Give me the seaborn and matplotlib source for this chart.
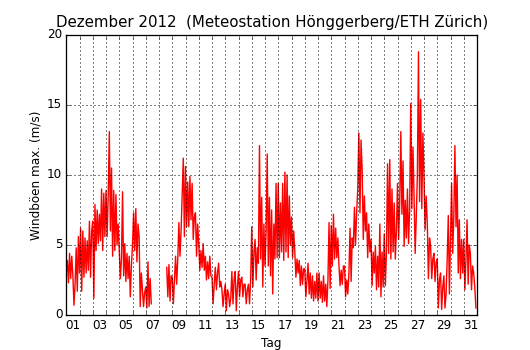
import numpy as np
import pandas as pd
import matplotlib
matplotlib.use('Agg')
import matplotlib.pyplot as plt
import matplotlib.dates as mdates
from matplotlib.ticker import FixedLocator, FixedFormatter, NullFormatter
import seaborn as sns

nan = np.nan

d01 = [3.0, 3.9, 2.3, 4.4, 2.6, 4.2, 2.8, 0.7, 2.2, 4.8, 1.7, 5.6]
d02 = [3.0, 6.2, 1.7, 6.0, 2.7, 5.5, 3.0, 5.3, 3.2, 6.7, 2.7, 6.0]
d03 = [6.7, 1.2, 7.9, 4.6, 7.5, 5.1, 7.2, 5.3, 9.0, 4.6, 8.7, 5.6]
d04 = [8.9, 5.6, 8.5, 13.1, 6.0, 10.5, 4.2, 8.9, 4.6, 8.6, 5.0, 6.5]
d05 = [4.6, 2.6, 4.0, 8.8, 2.8, 5.1, 2.4, 4.4, 2.6, 4.2, 1.3, 3.5]
d06 = [5.0, 7.3, 4.6, 7.6, 3.8, 6.5, 5.6, 0.6, 3.0, 1.8, 0.6, 1.6]
d07 = [2.0, 0.5, 3.8, 0.6, 2.6, 0.8, nan, nan, nan, nan, nan, nan]
d08 = [nan, nan, nan, nan, nan, nan, nan, 3.4, 1.3, 3.6, 1.0, 2.8]
d09 = [2.7, 0.8, 2.5, 4.2, 2.2, 4.0, 6.6, 4.2, 6.0, 8.5, 11.2, 5.6]
d10 = [10.6, 6.3, 9.5, 6.3, 9.9, 6.8, 9.4, 5.4, 7.0, 7.3, 4.2, 6.5]
d11 = [5.1, 3.2, 4.6, 3.4, 5.1, 3.2, 4.2, 2.5, 3.8, 2.6, 4.2, 2.8]
d12 = [2.7, 0.8, 2.2, 3.4, 1.8, 3.0, 3.7, 2.0, 2.4, 1.8, 0.6, 1.5]
d13 = [2.2, 0.3, 1.8, 1.5, 0.6, 1.2, 3.1, 0.8, 2.5, 3.1, 0.3, 2.0]
d14 = [3.1, 1.3, 2.5, 2.7, 1.3, 2.2, 2.2, 0.8, 1.8, 2.2, 0.8, 2.5]
d15 = [6.3, 2.0, 4.5, 5.4, 2.5, 4.8, 3.7, 12.1, 4.0, 8.4, 2.0, 6.5]
d16 = [3.5, 6.0, 11.5, 3.5, 8.4, 2.8, 7.5, 1.5, 6.5, 4.0, 9.4, 4.1]
d17 = [9.4, 4.1, 8.0, 4.5, 9.4, 3.9, 10.2, 4.5, 10.0, 4.1, 8.5, 5.0]
d18 = [7.0, 4.1, 6.0, 4.5, 2.7, 4.0, 3.0, 3.9, 2.1, 3.5, 2.2, 3.3]
d19 = [3.3, 1.3, 2.5, 3.7, 1.5, 3.0, 1.2, 2.8, 1.0, 2.4, 1.2, 3.0]
d20 = [1.0, 3.0, 1.2, 2.4, 0.9, 2.8, 1.0, 2.2, 0.6, 2.5, 6.6, 1.9]
d21 = [6.4, 3.5, 7.2, 4.0, 6.2, 4.1, 5.5, 3.5, 2.1, 3.2, 2.2, 3.5]
d22 = [3.5, 1.3, 2.5, 1.5, 3.0, 6.2, 2.4, 5.5, 4.8, 7.7, 5.0, 7.3]
d23 = [9.0, 13.0, 7.3, 12.5, 10.3, 5.4, 8.5, 6.0, 7.3, 4.1, 6.5, 4.5]
d24 = [5.4, 2.1, 4.5, 3.0, 4.9, 1.8, 4.2, 2.0, 6.5, 1.3, 4.5, 2.0]
d25 = [5.8, 2.1, 4.5, 10.8, 4.4, 11.1, 4.0, 9.0, 4.5, 8.0, 4.0, 6.0]
d26 = [9.4, 5.4, 8.0, 13.1, 7.2, 11.0, 4.9, 8.2, 5.5, 9.0, 5.1, 7.5]
d27 = [15.1, 7.6, 12.0, 8.5, 4.4, 7.0, 10.0, 18.8, 8.1, 15.4, 7.6, 13.0]
d28 = [9.9, 6.1, 8.5, 6.5, 2.6, 5.5, 4.9, 2.6, 4.0, 4.4, 2.4, 3.8]
d29 = [4.0, 0.5, 2.5, 3.0, 0.4, 2.0, 2.8, 0.5, 1.5, 4.0, 7.1, 1.5]
d30 = [5.5, 9.4, 4.4, 7.0, 12.1, 6.3, 10.0, 3.0, 6.8, 2.6, 5.4, 3.0]
d31 = [5.4, 1.8, 4.0, 6.8, 2.2, 5.0, 4.4, 1.8, 3.5, 3.0, 2.0, 0.5]

tage = [d01, d02, d03, d04, d05, d06, d07, d08, d09, d10, d11, d12, d13, d14, d15, d16,
        d17, d18, d19, d20, d21, d22, d23, d24, d25, d26, d27, d28, d29, d30, d31]

tick_labels = ['01', '03', '05', '07', '09', '11', '13', '15',
               '17', '19', '21', '23', '25', '27', '29', '31']
y_ticks = [0, 5, 10, 15, 20]

boeen = np.concatenate(tage)
zeit = pd.date_range('2012-12-01 00:00', periods=len(boeen), freq='2h')
df = pd.DataFrame({'zeit': zeit, 'boeen': boeen})
# Luecken in den Daten -> getrennte Abschnitte
df['abschnitt'] = df['boeen'].isna().cumsum()
df = df.dropna()

plt.style.use('classic')

fig = plt.figure(figsize=(530 / 72, 350 / 72), dpi=72, facecolor='white')
ax = fig.add_subplot(111)

sns.lineplot(data=df, x='zeit', y='boeen', units='abschnitt', estimator=None,
             color='red', lw=1.4, legend=False, ax=ax)

ax.set_xlim(pd.Timestamp('2012-12-01'), pd.Timestamp('2013-01-01'))
ax.set_ylim(0, 20)
ax.set_yticks(y_ticks)

# Gitter an jedem Tageswechsel, Beschriftung mittags
ax.xaxis.set_major_locator(mdates.DayLocator())
ax.xaxis.set_major_formatter(NullFormatter())
mitte = [mdates.date2num(pd.Timestamp('2012-12-' + t + ' 12:00')) for t in tick_labels]
ax.xaxis.set_minor_locator(FixedLocator(mitte))
ax.xaxis.set_minor_formatter(FixedFormatter(tick_labels))
ax.tick_params(axis='x', which='minor', length=0)
ax.grid(True, which='major', color='k', linestyle=(0, (1, 3)), linewidth=1.0)
for s in ax.spines.values():
    s.set_linewidth(1.3)

ax.set_title('Dezember 2012  (Meteostation Hönggerberg/ETH Zürich)', fontsize=15, pad=8)
ax.set_xlabel('Tag')
ax.set_ylabel('Windböen max. (m/s)')

fig.savefig('out.png', dpi=72, facecolor='white')
